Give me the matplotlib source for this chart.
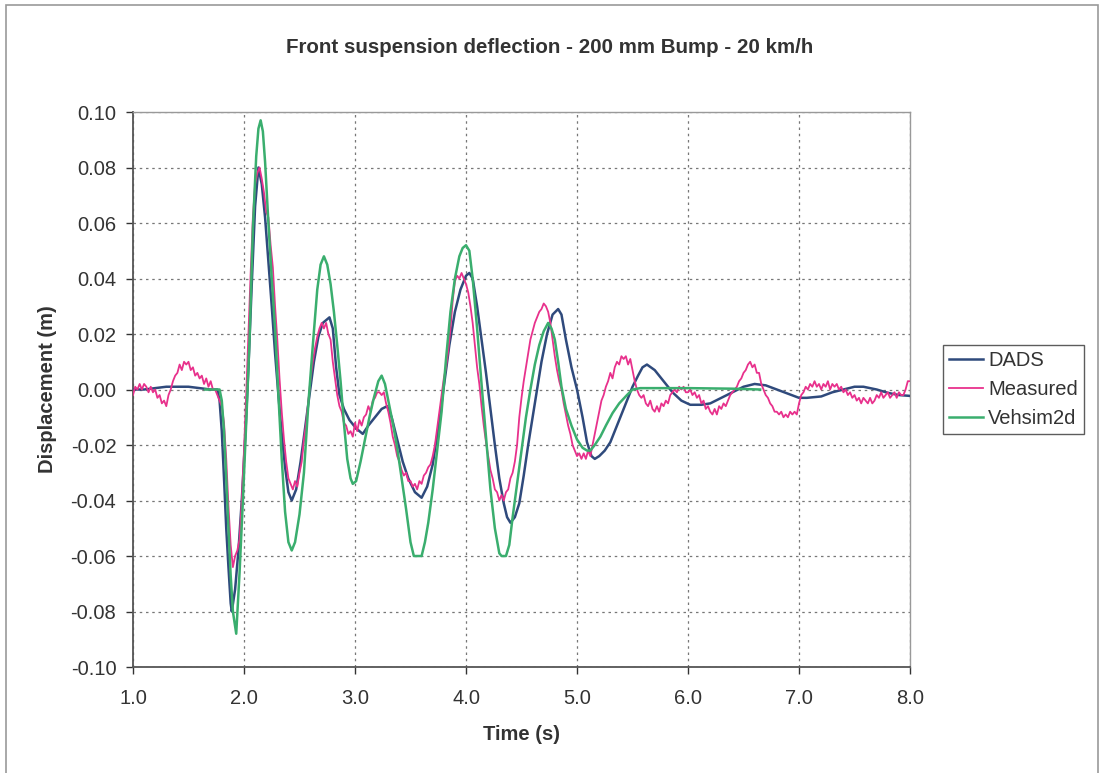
import numpy as np
import matplotlib
matplotlib.use("Agg")
import matplotlib.pyplot as plt
from matplotlib.patches import Rectangle
from matplotlib.ticker import FuncFormatter, MultipleLocator

plt.rcParams['font.family'] = ['Liberation Sans', 'DejaVu Sans']

# DADS (smooth simulation)
dads_t = [1.00, 1.10, 1.20, 1.30, 1.40, 1.50, 1.60, 1.70, 1.76, 1.78, 1.80, 1.82, 1.84, 1.86, 1.88, 1.89,
          1.92, 1.95, 1.98, 2.01, 2.04, 2.07, 2.10, 2.13, 2.16, 2.19, 2.22, 2.25, 2.28, 2.31, 2.34, 2.37,
          2.40, 2.43, 2.47, 2.51, 2.55, 2.59, 2.63, 2.67, 2.71, 2.77, 2.80, 2.83, 2.86, 2.90, 2.95, 3.01,
          3.07, 3.12, 3.18, 3.24, 3.29, 3.33, 3.38, 3.43, 3.48, 3.54, 3.60, 3.65, 3.70, 3.75, 3.80, 3.85,
          3.90, 3.95, 4.00, 4.03, 4.06, 4.10, 4.14, 4.18, 4.22, 4.26, 4.30, 4.34, 4.37, 4.40, 4.44, 4.48,
          4.52, 4.56, 4.60, 4.64, 4.68, 4.73, 4.78, 4.83, 4.86, 4.90, 4.95, 5.00, 5.05, 5.09, 5.13, 5.16,
          5.20, 5.25, 5.30, 5.35, 5.40, 5.45, 5.50, 5.55, 5.59, 5.63, 5.70, 5.78, 5.86, 5.94, 6.02, 6.12,
          6.20, 6.30, 6.40, 6.50, 6.60, 6.70, 6.80, 6.90, 7.00, 7.07, 7.20, 7.30, 7.40, 7.50, 7.58, 7.70,
          7.80, 7.90, 8.00]
dads_y = [0.000, 0.000, 0.0005, 0.001, 0.001, 0.001, 0.0005, 0.000, 0.000, -0.004, -0.015, -0.032, -0.050, -0.064, -0.077, -0.080,
          -0.072, -0.058, -0.040, -0.018, 0.008, 0.038, 0.066, 0.080, 0.074, 0.062, 0.046, 0.030, 0.013, -0.002, -0.016, -0.028,
          -0.037, -0.040, -0.036, -0.026, -0.014, -0.002, 0.010, 0.019, 0.024, 0.026, 0.022, 0.008, -0.002, -0.007, -0.011, -0.014,
          -0.016, -0.013, -0.010, -0.007, -0.006, -0.010, -0.018, -0.026, -0.032, -0.037, -0.039, -0.035, -0.027, -0.014, 0.001, 0.016,
          0.028, 0.036, 0.041, 0.042, 0.040, 0.030, 0.018, 0.006, -0.007, -0.020, -0.032, -0.041, -0.046, -0.048, -0.046, -0.041,
          -0.031, -0.020, -0.010, 0.000, 0.010, 0.020, 0.027, 0.029, 0.027, 0.018, 0.008, 0.000, -0.010, -0.019, -0.024, -0.025,
          -0.024, -0.022, -0.019, -0.014, -0.009, -0.004, 0.001, 0.005, 0.008, 0.009, 0.007, 0.003, -0.001, -0.004, -0.0055, -0.0055,
          -0.005, -0.003, -0.001, 0.001, 0.002, 0.0015, 0.000, -0.0015, -0.003, -0.003, -0.0025, -0.001, 0.000, 0.001, 0.001, 0.000,
          -0.0012, -0.002, -0.0023]

# Measured, sampled every 0.02 s from 1.00 s to 8.00 s
meas_t0 = 1.00
meas_dt = 0.02
meas_y = [
    -0.002, 0.001, 0.000, 0.002, 0.000, 0.002, 0.001, -0.001, 0.001, -0.001,      # 1.00
    0.000, -0.003, -0.002, -0.005, -0.004, -0.006, -0.002, 0.000, 0.003, 0.005,    # 1.20
    0.006, 0.009, 0.007, 0.010, 0.009, 0.010, 0.007, 0.008, 0.005, 0.006,         # 1.40
    0.004, 0.005, 0.002, 0.004, 0.001, 0.003, 0.000, 0.000, -0.002, -0.004,       # 1.60
    -0.006, -0.012, -0.025, -0.042, -0.056, -0.064, -0.060, -0.058, -0.054, -0.040,  # 1.80
    -0.022, -0.002, 0.020, 0.042, 0.062, 0.074, 0.078, 0.080, 0.076, 0.071,       # 2.00
    0.064, 0.062, 0.052, 0.044, 0.030, 0.018, 0.004, -0.008, -0.018, -0.026,      # 2.20
    -0.032, -0.034, -0.036, -0.033, -0.035, -0.030, -0.026, -0.018, -0.012, -0.004,  # 2.40
    0.004, 0.010, 0.015, 0.019, 0.022, 0.024, 0.022, 0.024, 0.020, 0.018,         # 2.60
    0.010, 0.004, -0.002, -0.006, -0.008, -0.012, -0.013, -0.016, -0.015, -0.017,  # 2.80
    -0.012, -0.015, -0.011, -0.013, -0.010, -0.009, -0.006, -0.008, -0.004, -0.003,  # 3.00
    -0.001, -0.001, -0.002, -0.001, -0.005, -0.008, -0.012, -0.017, -0.020, -0.024,  # 3.20
    -0.026, -0.029, -0.031, -0.030, -0.033, -0.033, -0.035, -0.034, -0.036, -0.033,  # 3.40
    -0.034, -0.031, -0.030, -0.028, -0.027, -0.024, -0.020, -0.014, -0.008, -0.002,  # 3.60
    0.004, 0.008, 0.014, 0.022, 0.032, 0.039, 0.041, 0.040, 0.042, 0.040,         # 3.80
    0.038, 0.035, 0.030, 0.024, 0.016, 0.008, 0.002, -0.006, -0.013, -0.019,      # 4.00
    -0.024, -0.029, -0.032, -0.036, -0.037, -0.040, -0.038, -0.040, -0.037, -0.036,  # 4.20
    -0.032, -0.030, -0.026, -0.020, -0.010, -0.003, 0.003, 0.008, 0.013, 0.018,   # 4.40
    0.021, 0.024, 0.026, 0.028, 0.029, 0.031, 0.030, 0.028, 0.024, 0.018,         # 4.60
    0.012, 0.007, 0.003, 0.000, -0.005, -0.009, -0.013, -0.016, -0.020, -0.022,   # 4.80
    -0.024, -0.023, -0.025, -0.023, -0.025, -0.022, -0.024, -0.020, -0.016, -0.012,  # 5.00
    -0.008, -0.004, -0.002, 0.001, 0.003, 0.006, 0.004, 0.008, 0.010, 0.009,      # 5.20
    0.012, 0.011, 0.012, 0.009, 0.011, 0.007, 0.003, 0.000, -0.002, -0.003,       # 5.40
    -0.002, -0.005, -0.006, -0.004, -0.007, -0.008, -0.006, -0.008, -0.005, -0.006,  # 5.60
    -0.004, -0.005, -0.002, -0.001, 0.000, -0.001, 0.001, 0.000, 0.001, -0.001,   # 5.80
    -0.001, 0.000, -0.002, -0.001, -0.003, -0.002, -0.005, -0.004, -0.007, -0.006,  # 6.00
    -0.008, -0.009, -0.007, -0.009, -0.006, -0.007, -0.005, -0.006, -0.004, -0.002,  # 6.20
    -0.001, 0.000, 0.001, 0.003, 0.004, 0.006, 0.007, 0.009, 0.010, 0.008,        # 6.40
    0.009, 0.006, 0.006, 0.002, 0.000, -0.002, -0.003, -0.005, -0.006, -0.008,    # 6.60
    -0.008, -0.009, -0.008, -0.010, -0.009, -0.010, -0.008, -0.009, -0.008, -0.009,  # 6.80
    -0.005, -0.002, -0.001, 0.001, 0.000, 0.002, 0.001, 0.003, 0.001, 0.002,      # 7.00
    0.000, 0.002, 0.001, 0.003, 0.000, 0.002, 0.001, 0.002, 0.000, 0.001,         # 7.20
    -0.001, 0.000, -0.002, -0.001, -0.003, -0.002, -0.004, -0.003, -0.005, -0.003,  # 7.40
    -0.004, -0.005, -0.003, -0.005, -0.004, -0.002, -0.003, -0.001, -0.003, -0.002,  # 7.60
    -0.001, -0.003, -0.002, -0.001, -0.003, -0.001, -0.002, -0.002, 0.000, 0.003,  # 7.80
    0.003,                                                                          # 8.00
]

# Vehsim2d
veh_t = [1.65, 1.78, 1.80, 1.82, 1.84, 1.86, 1.88, 1.90, 1.93, 1.96, 1.99, 2.02, 2.05, 2.08, 2.11, 2.13,
         2.15, 2.17, 2.19, 2.22, 2.25, 2.28, 2.31, 2.34, 2.37, 2.40, 2.43, 2.46, 2.50, 2.54, 2.58, 2.62,
         2.66, 2.69, 2.72, 2.75, 2.78, 2.81, 2.84, 2.87, 2.90, 2.93, 2.96, 2.98, 3.01, 3.05, 3.09, 3.13,
         3.17, 3.21, 3.24, 3.27, 3.30, 3.34, 3.38, 3.42, 3.46, 3.50, 3.53, 3.60, 3.63, 3.66, 3.70, 3.74,
         3.78, 3.82, 3.86, 3.90, 3.94, 3.97, 4.00, 4.03, 4.06, 4.10, 4.14, 4.18, 4.22, 4.26, 4.30, 4.32,
         4.36, 4.39, 4.42, 4.46, 4.50, 4.54, 4.58, 4.62, 4.66, 4.70, 4.74, 4.77, 4.80, 4.83, 4.86, 4.90,
         4.95, 5.00, 5.05, 5.09, 5.12, 5.16, 5.21, 5.26, 5.32, 5.38, 5.45, 5.50, 5.57, 6.00, 6.40, 6.65]
veh_y = [0.000, 0.000, -0.004, -0.015, -0.032, -0.050, -0.067, -0.080, -0.088, -0.066, -0.040, -0.012, 0.018, 0.058, 0.084, 0.094,
         0.097, 0.093, 0.082, 0.060, 0.040, 0.022, -0.002, -0.025, -0.044, -0.055, -0.058, -0.055, -0.045, -0.030, -0.005, 0.016,
         0.036, 0.045, 0.048, 0.045, 0.038, 0.028, 0.016, 0.003, -0.012, -0.025, -0.032, -0.034, -0.033, -0.026, -0.018, -0.010,
         -0.003, 0.003, 0.005, 0.002, -0.004, -0.012, -0.021, -0.032, -0.043, -0.055, -0.060, -0.060, -0.055, -0.048, -0.036, -0.022,
         -0.008, 0.011, 0.028, 0.040, 0.048, 0.051, 0.052, 0.050, 0.040, 0.022, 0.002, -0.017, -0.036, -0.050, -0.059, -0.060,
         -0.060, -0.056, -0.046, -0.034, -0.022, -0.010, 0.000, 0.009, 0.016, 0.021, 0.024, 0.022, 0.018, 0.010, 0.001, -0.007,
         -0.013, -0.018, -0.021, -0.022, -0.022, -0.020, -0.017, -0.013, -0.0085, -0.005, -0.002, 0.000, 0.0005, 0.0005, 0.0003, 0.000]

meas_t = meas_t0 + meas_dt * np.arange(len(meas_y))

fig = plt.figure(figsize=(11, 7.73), dpi=100)
ax = fig.add_axes([0.1209, 0.1371, 0.7064, 0.7180])

ax.plot(dads_t, dads_y, color='#2f4a7c', lw=1.8, label='DADS', zorder=3)
ax.plot(meas_t, meas_y, color='#e8318c', lw=1.3, label='Measured', zorder=4)
ax.plot(veh_t, veh_y, color='#3aae6e', lw=1.8, label='Vehsim2d', zorder=5)

ax.set_xlim(1.0, 8.0)
ax.set_ylim(-0.10, 0.10)
ax.xaxis.set_major_locator(MultipleLocator(1.0))
ax.yaxis.set_major_locator(MultipleLocator(0.02))
ax.xaxis.set_major_formatter(FuncFormatter(lambda v, p: '%.1f' % v))
ax.yaxis.set_major_formatter(FuncFormatter(lambda v, p: '%.2f' % (0.0 if abs(v) < 1e-9 else v)))
ax.tick_params(axis='both', labelsize=14.5, colors='#333333', length=5, width=1)
ax.tick_params(axis='x', pad=11)
ax.tick_params(axis='y', pad=7)
ax.grid(True, color='#777777', linestyle=(0, (2, 3)), lw=0.9)
for s in ['top', 'right']:
    ax.spines[s].set_color('#999999')
    ax.spines[s].set_linewidth(1.0)
for s in ['left', 'bottom']:
    ax.spines[s].set_color('#555555')
    ax.spines[s].set_linewidth(1.3)

ax.set_xlabel('Time (s)', fontsize=14.5, fontweight='bold', color='#333333', labelpad=12)
ax.set_ylabel('Displacement (m)', fontsize=14.5, fontweight='bold', color='#333333', labelpad=10)
fig.text(0.5, 0.938, 'Front suspension deflection - 200 mm Bump - 20 km/h',
         ha='center', va='center', fontsize=14.8, fontweight='bold', color='#333333')

leg = ax.legend(loc='upper left', bbox_to_anchor=(0.857, 0.5537), bbox_transform=fig.transFigure,
                borderaxespad=0, fontsize=14.5, frameon=True, fancybox=False, handlelength=1.7,
                borderpad=0.3, labelspacing=0.5, handletextpad=0.25)
leg.get_frame().set_edgecolor('#333333')
leg.get_frame().set_linewidth(1.0)
for t in leg.get_texts():
    t.set_color('#333333')

fig.patches.append(Rectangle((0.005, -0.01), 0.993, 1.003, transform=fig.transFigure,
                             fill=False, edgecolor='#999999', lw=1.2))

fig.savefig('out.png', dpi=100)
